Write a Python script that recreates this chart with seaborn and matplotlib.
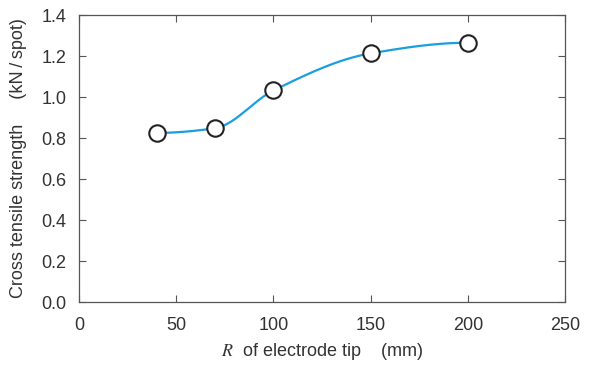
import matplotlib
matplotlib.use('Agg')
import matplotlib.pyplot as plt
import numpy as np
import pandas as pd
import seaborn as sns

radius = [40, 70, 100, 150, 200]
strength = [0.825, 0.848, 1.032, 1.213, 1.265]
x_ticks = [0, 50, 100, 150, 200, 250]
y_ticks = [0.0, 0.2, 0.4, 0.6, 0.8, 1.0, 1.2, 1.4]


def pchip(x, y, xs):
    # monotone cubic curve through the measured points
    x = np.asarray(x, float)
    y = np.asarray(y, float)
    h = np.diff(x)
    d = np.diff(y) / h
    m = np.zeros_like(y)
    for k in range(1, len(x) - 1):
        if d[k - 1] * d[k] > 0:
            w1 = 2 * h[k] + h[k - 1]
            w2 = h[k] + 2 * h[k - 1]
            m[k] = (w1 + w2) / (w1 / d[k - 1] + w2 / d[k])
    m[0] = max(0.0, ((2 * h[0] + h[1]) * d[0] - h[0] * d[1]) / (h[0] + h[1]))
    m[-1] = max(0.0, ((2 * h[-1] + h[-2]) * d[-1] - h[-1] * d[-2]) / (h[-1] + h[-2]))
    out = []
    for v in xs:
        k = min(np.searchsorted(x, v, side='right') - 1, len(x) - 2)
        t = (v - x[k]) / h[k]
        h00 = 2 * t**3 - 3 * t**2 + 1
        h10 = t**3 - 2 * t**2 + t
        h01 = -2 * t**3 + 3 * t**2
        h11 = t**3 - t**2
        out.append(h00 * y[k] + h10 * h[k] * m[k] + h01 * y[k + 1] + h11 * h[k] * m[k + 1])
    return np.array(out)


sns.set_style('ticks')
plt.rcParams['font.family'] = ['Liberation Sans', 'DejaVu Sans']
plt.rcParams['mathtext.fontset'] = 'stix'

points = pd.DataFrame({'R': radius, 'strength': strength})
xs = np.linspace(radius[0], radius[-1], 300)
curve = pd.DataFrame({'R': xs, 'strength': pchip(radius, strength, xs)})

fig = plt.figure(figsize=(5.97, 3.67), dpi=100)
ax = fig.add_axes([0.1323, 0.177, 0.8141, 0.782])

sns.lineplot(data=curve, x='R', y='strength', color='#1a9ee0', linewidth=1.6, ax=ax)
sns.scatterplot(data=points, x='R', y='strength', s=140, color='white',
                edgecolor='#222222', linewidth=1.5, zorder=3, ax=ax)

ax.set_xlim(0, 250)
ax.set_ylim(0, 1.4)
ax.set_xticks(x_ticks)
ax.set_yticks(y_ticks)
ax.set_yticklabels([f'{v:.1f}' for v in y_ticks])
ax.tick_params(direction='in', length=5, width=0.8, colors='#555555',
               labelcolor='#333333', labelsize=13, pad=9, top=True, right=True)
ax.tick_params(axis='x', pad=11)
for side in ax.spines.values():
    side.set_color('#555555')
    side.set_linewidth(0.9)

ax.set_xlabel(r'$R$  of electrode tip    (mm)', fontsize=13, color='#333333', labelpad=5)
ax.set_ylabel('Cross tensile strength     (kN\u2009/\u2009spot)', fontsize=13,
              color='#333333', labelpad=10)

fig.savefig('out.png', dpi=100)
